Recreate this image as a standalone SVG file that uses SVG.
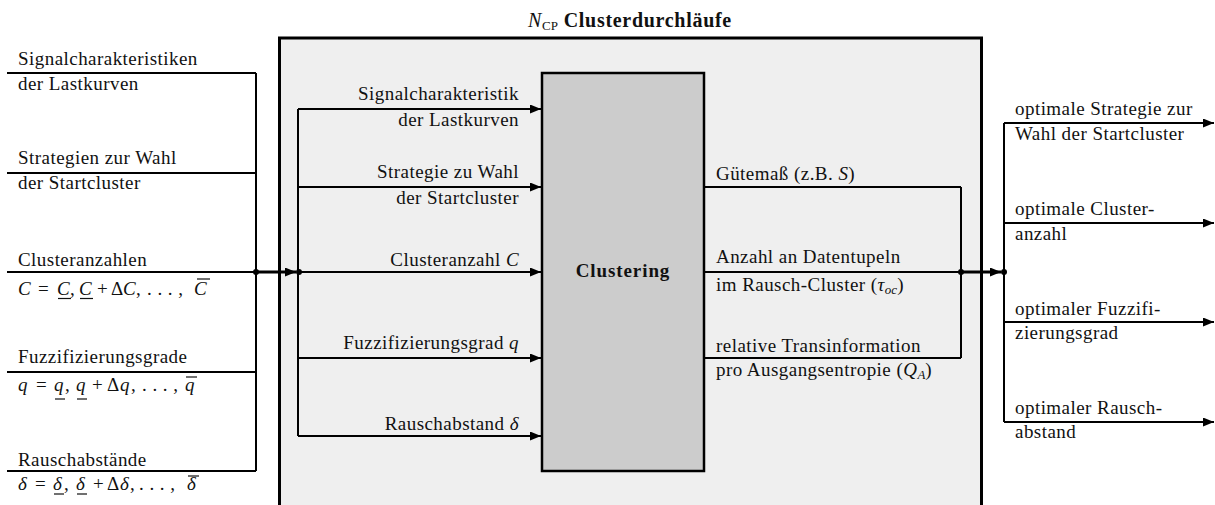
<svg xmlns="http://www.w3.org/2000/svg" width="1215" height="505" viewBox="0 0 1215 505">
  <defs>
    <marker id="arrow" markerUnits="userSpaceOnUse" markerWidth="11" markerHeight="9" refX="11" refY="4.5" orient="auto">
      <path d="M0,0 L11,4.5 L0,9 Z" fill="#000"/>
    </marker>
    <style>
      text { font-family: "Liberation Serif", "Times New Roman", serif; font-size: 19px; letter-spacing: 0.45px; fill: #111; }
      .end { text-anchor: end; }
      .mid { text-anchor: middle; }
      .it { font-style: italic; }
      .b { font-weight: bold; }
      .head { font-size: 20px; letter-spacing: 0.7px; }
      .sub { font-size: 13px; letter-spacing: 0; }
      .ln { stroke: #000; stroke-width: 2; fill: none; }
      .thick { stroke: #000; stroke-width: 3; fill: none; }
      .bar { stroke: #111; stroke-width: 1.2; }
      .arr { marker-end: url(#arrow); }
    </style>
  </defs>

  <rect width="1215" height="505" fill="#fff"/>

  <!-- loop frame: N_CP cluster runs -->
  <g id="loop-frame">
    <rect x="279.5" y="38" width="702" height="480" fill="#efefef" stroke="#000" stroke-width="3"/>
    <text x="630" y="27" class="mid head"><tspan class="it">N</tspan><tspan class="sub" dy="3">CP</tspan><tspan class="b" dy="-3"> Clusterdurchläufe</tspan></text>
  </g>

  <!-- clustering block -->
  <g id="clustering">
    <rect x="542" y="73" width="162" height="398" fill="#cccccc" stroke="#000" stroke-width="2.5"/>
    <text x="623" y="277" class="mid b" style="letter-spacing:0.9px">Clustering</text>
  </g>

  <!-- parameter ranges -->
  <g id="in-signal">
    <text x="18" y="65">Signalcharakteristiken</text>
    <text x="18" y="90">der Lastkurven</text>
  </g>
  <g id="in-strategy">
    <text x="18" y="164">Strategien zur Wahl</text>
    <text x="18" y="189">der Startcluster</text>
  </g>
  <g id="in-clusters">
    <text x="18" y="266">Clusteranzahlen</text>
    <text y="295"><tspan x="18" class="it">C</tspan><tspan x="38">=</tspan><tspan x="57" class="it">C</tspan><tspan x="70">,</tspan><tspan x="79" class="it">C</tspan><tspan x="97">+</tspan><tspan x="111">Δ</tspan><tspan x="123" class="it">C</tspan><tspan x="136">,</tspan><tspan x="147">. . . ,</tspan><tspan x="194" class="it">C</tspan></text>
    <line class="bar" x1="58" y1="298.5" x2="71" y2="298.5"/>
    <line class="bar" x1="80" y1="298.5" x2="93" y2="298.5"/>
    <line class="bar" x1="197" y1="279" x2="210" y2="279"/>
  </g>
  <g id="in-fuzzifier">
    <text x="18" y="363">Fuzzifizierungsgrade</text>
    <text y="391"><tspan x="18" class="it">q</tspan><tspan x="36">=</tspan><tspan x="54" class="it">q</tspan><tspan x="65">,</tspan><tspan x="76" class="it">q</tspan><tspan x="92">+</tspan><tspan x="107">Δ</tspan><tspan x="120" class="it">q</tspan><tspan x="131">,</tspan><tspan x="142">. . . ,</tspan><tspan x="185" class="it">q</tspan></text>
    <line class="bar" x1="55" y1="399" x2="65" y2="399"/>
    <line class="bar" x1="77" y1="399" x2="87" y2="399"/>
    <line class="bar" x1="186" y1="377" x2="197" y2="377"/>
  </g>
  <g id="in-noise">
    <text x="18" y="466">Rauschabstände</text>
    <text y="490"><tspan x="18" class="it">δ</tspan><tspan x="35">=</tspan><tspan x="53" class="it">δ</tspan><tspan x="64">,</tspan><tspan x="76" class="it">δ</tspan><tspan x="93">+</tspan><tspan x="107">Δ</tspan><tspan x="120" class="it">δ</tspan><tspan x="130">,</tspan><tspan x="139">. . . ,</tspan><tspan x="187" class="it">δ</tspan></text>
    <line class="bar" x1="54" y1="494" x2="64" y2="494"/>
    <line class="bar" x1="77" y1="494" x2="87" y2="494"/>
    <line class="bar" x1="188" y1="476" x2="199" y2="476"/>
  </g>

  <!-- per-run inputs of the clustering block -->
  <g id="run-inputs">
    <text x="519" y="100" class="end">Signalcharakteristik</text>
    <text x="519" y="126" class="end">der Lastkurven</text>
    <text x="519" y="178" class="end">Strategie zu Wahl</text>
    <text x="519" y="204" class="end">der Startcluster</text>
    <text x="519" y="266" class="end">Clusteranzahl <tspan class="it">C</tspan></text>
    <text x="519" y="349" class="end">Fuzzifizierungsgrad <tspan class="it">q</tspan></text>
    <text x="519" y="430" class="end">Rauschabstand <tspan class="it">δ</tspan></text>
  </g>

  <!-- quality measures -->
  <g id="run-outputs">
    <text x="716" y="180">Gütemaß (z.B. <tspan class="it">S</tspan>)</text>
    <text x="716" y="263">Anzahl an Datentupeln</text>
    <text x="716" y="291">im Rausch-Cluster (<tspan class="it">τ</tspan><tspan class="it sub" dy="3">oc</tspan><tspan dy="-3">)</tspan></text>
    <text x="716" y="352">relative Transinformation</text>
    <text x="716" y="376">pro Ausgangsentropie (<tspan class="it">Q</tspan><tspan class="it sub" dy="3">A</tspan><tspan dy="-3">)</tspan></text>
  </g>

  <!-- optimal parameters -->
  <g id="out-strategy">
    <text x="1015" y="115">optimale Strategie zur</text>
    <text x="1015" y="140">Wahl der Startcluster</text>
  </g>
  <g id="out-clusters">
    <text x="1015" y="215">optimale Cluster-</text>
    <text x="1015" y="240">anzahl</text>
  </g>
  <g id="out-fuzzifier">
    <text x="1015" y="315">optimaler Fuzzifi-</text>
    <text x="1015" y="339">zierungsgrad</text>
  </g>
  <g id="out-noise">
    <text x="1015" y="414">optimaler Rausch-</text>
    <text x="1015" y="438">abstand</text>
  </g>

  <g id="connectors">
    <!-- input collector -->
    <path class="ln" d="M7,73 H256 M7,173 H256 M7,272 H256 M7,372 H256 M7,471 H256 M256,73 V471"/>
    <circle cx="256" cy="272" r="3"/>
    <path class="thick arr" d="M256,272 H296"/>
    <circle cx="299" cy="272" r="3"/>
    <!-- distribution to the clustering block -->
    <path class="ln" d="M298,109 V436"/>
    <path class="ln arr" d="M298,109 H541"/>
    <path class="ln arr" d="M298,187 H541"/>
    <path class="ln arr" d="M298,272 H541"/>
    <path class="ln arr" d="M298,358 H541"/>
    <path class="ln arr" d="M298,436 H541"/>
    <!-- quality measures collector -->
    <path class="ln" d="M704,187 H961 M704,272 H961 M704,358 H961 M961,187 V358"/>
    <circle cx="961" cy="272" r="3"/>
    <path class="thick arr" d="M961,272 H1001"/>
    <circle cx="1004" cy="272" r="3"/>
    <!-- optimal parameter outputs -->
    <path class="ln" d="M1004,123 V422"/>
    <path class="ln arr" d="M1004,123 H1214"/>
    <path class="ln arr" d="M1004,223 H1214"/>
    <path class="ln arr" d="M1004,322 H1214"/>
    <path class="ln arr" d="M1004,422 H1214"/>
  </g>
</svg>
